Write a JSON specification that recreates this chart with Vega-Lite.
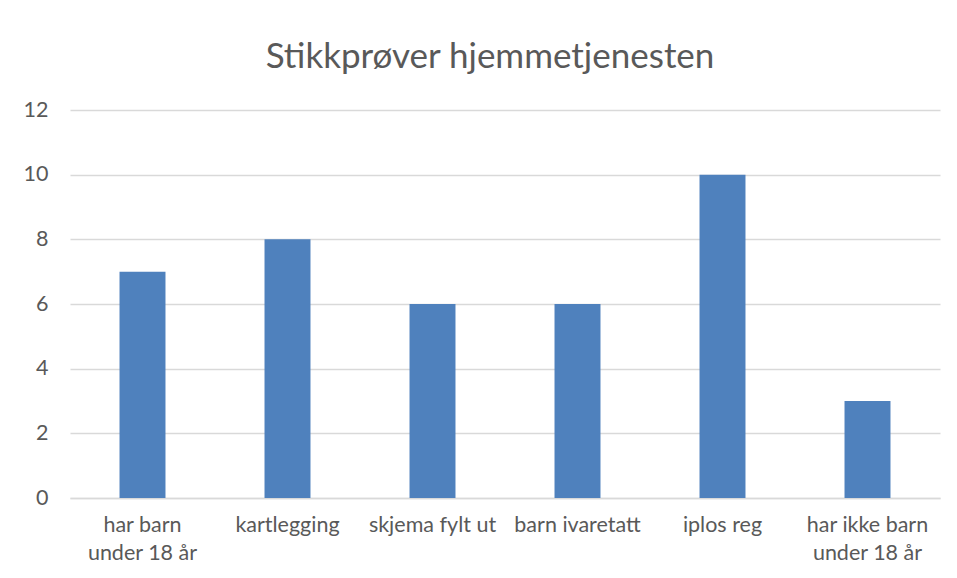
{
  "$schema": "https://vega.github.io/schema/vega-lite/v6.json",
  "autosize": {"type": "none"},
  "width": 870,
  "height": 388,
  "padding": {"left": 70, "top": 110, "right": 17, "bottom": 80},
  "background": "white",
  "title": {
    "text": "Stikkprøver hjemmetjenesten",
    "font": "Lato",
    "fontSize": 35,
    "fontWeight": "normal",
    "color": "#595959",
    "anchor": "middle",
    "offset": 24,
    "dx": -15
  },
  "data": {
    "values": [
      {"kategori": "har barn under 18 år", "antall": 7},
      {"kategori": "kartlegging", "antall": 8},
      {"kategori": "skjema fylt ut", "antall": 6},
      {"kategori": "barn ivaretatt", "antall": 6},
      {"kategori": "iplos reg", "antall": 10},
      {"kategori": "har ikke barn under 18 år", "antall": 3}
    ]
  },
  "mark": {"type": "bar", "color": "#4F81BD"},
  "encoding": {
    "x": {
      "field": "kategori",
      "type": "nominal",
      "sort": null,
      "title": null,
      "scale": {"paddingInner": 0.683, "paddingOuter": 0.3415},
      "axis": {
        "labelAngle": 0,
        "labelFont": "Lato",
        "labelFontSize": 21.5,
        "labelColor": "#595959",
        "labelPadding": 16,
        "labelLineHeight": 28,
        "ticks": false,
        "domainColor": "#d9d9d9",
        "domainWidth": 1.5,
        "labelExpr": "datum.label == 'har barn under 18 år' ? ['har barn', 'under 18 år'] : datum.label == 'har ikke barn under 18 år' ? ['har ikke barn', 'under 18 år'] : datum.label"
      }
    },
    "y": {
      "field": "antall",
      "type": "quantitative",
      "title": null,
      "scale": {"domain": [0, 12]},
      "axis": {
        "values": [0, 2, 4, 6, 8, 10, 12],
        "labelFont": "Lato",
        "labelFontSize": 21.5,
        "labelColor": "#595959",
        "labelPadding": 22,
        "ticks": false,
        "domain": false,
        "gridColor": "#d9d9d9",
        "gridWidth": 1.3
      }
    }
  },
  "config": {"view": {"stroke": null}}
}
